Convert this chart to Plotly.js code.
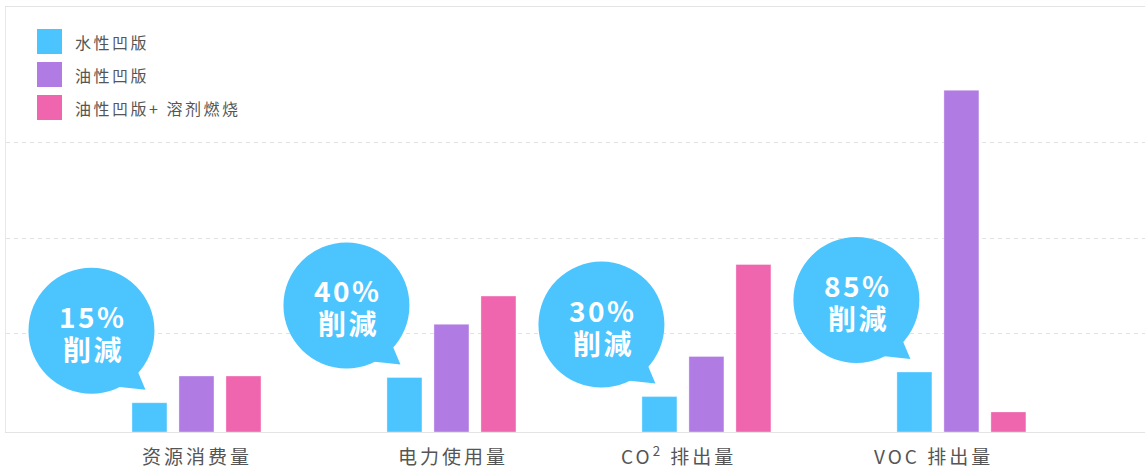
<!DOCTYPE html>
<html>
<head>
<meta charset="utf-8">
<script src="https://cdn.plot.ly/plotly-3.0.1.min.js"></script>
<style>
  html, body { margin: 0; padding: 0; background: #ffffff; }
  #chart { width: 1145px; height: 469px; }
</style>
</head>
<body>
<div id="chart"></div>
<script>
// ---- data ----
const categories = ['资源消费量', '电力使用量', 'CO<sup>2</sup> 排出量', 'VOC 排出量'];
const seriesNames = ['水性凹版', '油性凹版', '油性凹版+ 溶剂燃烧'];
const waterBased = [0.306, 0.57, 0.37, 0.627];
const oilBased = [0.585, 1.125, 0.79, 3.57];
const oilSolvent = [0.585, 1.42, 1.75, 0.21];
const reductionPct = ['15%', '40%', '30%', '85%'];
const reductionWord = '削減';
const gridValues = [1.025, 2.025, 3.025];

// ---- styles / layout tweaks ----
const colors = ['rgb(76,197,255)', 'rgb(176,123,226)', 'rgb(239,101,174)'];
const bubbleColor = 'rgb(76,197,255)';
const fontFamily = '"Noto Sans CJK SC", "Noto Sans", sans-serif';
const labelShiftPx = [1, 2, -28, -28];
const spaced = (t, px) => `<span style="letter-spacing:${px}px">${t}</span>`;
const xIdx = categories.map((_, i) => i);
const seriesValues = [waterBased, oilBased, oilSolvent];

const traces = seriesValues.map((vals, s) => ({
  type: 'bar',
  name: seriesNames[s],
  x: xIdx,
  y: vals,
  marker: { color: colors[s], line: { width: 1, color: 'rgba(255,255,255,0.35)' } },
  showlegend: false,
  hoverinfo: 'skip'
}));

const shapes = [];
const annotations = [];

// speech bubbles anchored above the water-based bar of each group
const bubbleDx = -105, bubbleDy = 72, r = 63;
categories.forEach((c, i) => {
  shapes.push({
    type: 'circle', xref: 'x', yref: 'y',
    xsizemode: 'pixel', ysizemode: 'pixel',
    xanchor: xIdx[i], yanchor: waterBased[i],
    x0: bubbleDx - r, x1: bubbleDx + r,
    y0: bubbleDy - r, y1: bubbleDy + r,
    fillcolor: bubbleColor, line: { width: 0 }, layer: 'above'
  });
  const cx = bubbleDx, cy = bubbleDy;
  shapes.push({
    type: 'path', xref: 'x', yref: 'y',
    xsizemode: 'pixel', ysizemode: 'pixel',
    xanchor: xIdx[i], yanchor: waterBased[i],
    path: `M${cx + 46},${cy - 40} L${cx + 54},${cy - 59} L${cx + 26},${cy - 56} Z`,
    fillcolor: bubbleColor, line: { width: 0 }, layer: 'above'
  });
  annotations.push({
    xref: 'x', yref: 'y', x: xIdx[i], y: waterBased[i],
    xshift: bubbleDx + 2, yshift: bubbleDy + 15,
    text: spaced(reductionPct[i], 2.5), showarrow: false,
    xanchor: 'center', yanchor: 'middle',
    font: { family: fontFamily, size: 28, color: '#ffffff', weight: 'bold' }
  });
  annotations.push({
    xref: 'x', yref: 'y', x: xIdx[i], y: waterBased[i],
    xshift: bubbleDx + 2, yshift: bubbleDy - 18,
    text: spaced(reductionWord, 2.5), showarrow: false,
    xanchor: 'center', yanchor: 'middle',
    font: { family: fontFamily, size: 28, color: '#ffffff', weight: 'bold' }
  });
  // category label under each group
  annotations.push({
    xref: 'x', yref: 'paper', x: xIdx[i], y: 0,
    xshift: labelShiftPx[i], yshift: -23,
    text: spaced(c, 3), showarrow: false,
    xanchor: 'center', yanchor: 'middle',
    font: { family: fontFamily, size: 19, color: '#555555' }
  });
});

// legend drawn as squares + labels at the top-left of the plot area
seriesNames.forEach((n, s) => {
  const top = -22 - 33 * s;
  shapes.push({
    type: 'rect', xref: 'paper', yref: 'paper',
    xsizemode: 'pixel', ysizemode: 'pixel',
    xanchor: 0, yanchor: 1,
    x0: 31, x1: 56, y0: top, y1: top - 25,
    fillcolor: colors[s], line: { width: 0 }
  });
  annotations.push({
    xref: 'paper', yref: 'paper', x: 0, y: 1,
    xshift: 67, yshift: top - 13,
    text: spaced(n, 2.5), showarrow: false, xanchor: 'left', yanchor: 'middle',
    font: { family: fontFamily, size: 16, color: '#555555' }
  });
});

const layout = {
  width: 1145, height: 469,
  margin: { l: 6, r: 0, t: 7, b: 37 },
  paper_bgcolor: '#ffffff', plot_bgcolor: '#ffffff',
  barmode: 'group', bargap: 0.447, bargroupgap: 0.255,
  showlegend: false,
  font: { family: fontFamily, color: '#555555' },
  xaxis: {
    range: [-0.747, 3.72], tickmode: 'array', tickvals: xIdx,
    showticklabels: false,
    showgrid: false, zeroline: false, showline: true, mirror: true,
    linecolor: '#e3e3e3', linewidth: 1, ticks: '',
    fixedrange: true
  },
  yaxis: {
    range: [0, 4.44], tickmode: 'array', tickvals: gridValues,
    showgrid: true, gridcolor: '#e2e2e2', griddash: '4px,4px', gridwidth: 1,
    zeroline: false, showline: true, mirror: true, linecolor: '#e8e8e8',
    showticklabels: false, ticks: '', fixedrange: true
  },
  shapes: shapes,
  annotations: annotations
};

Plotly.newPlot('chart', traces, layout, { displayModeBar: false, staticPlot: true });
</script>
</body>
</html>
